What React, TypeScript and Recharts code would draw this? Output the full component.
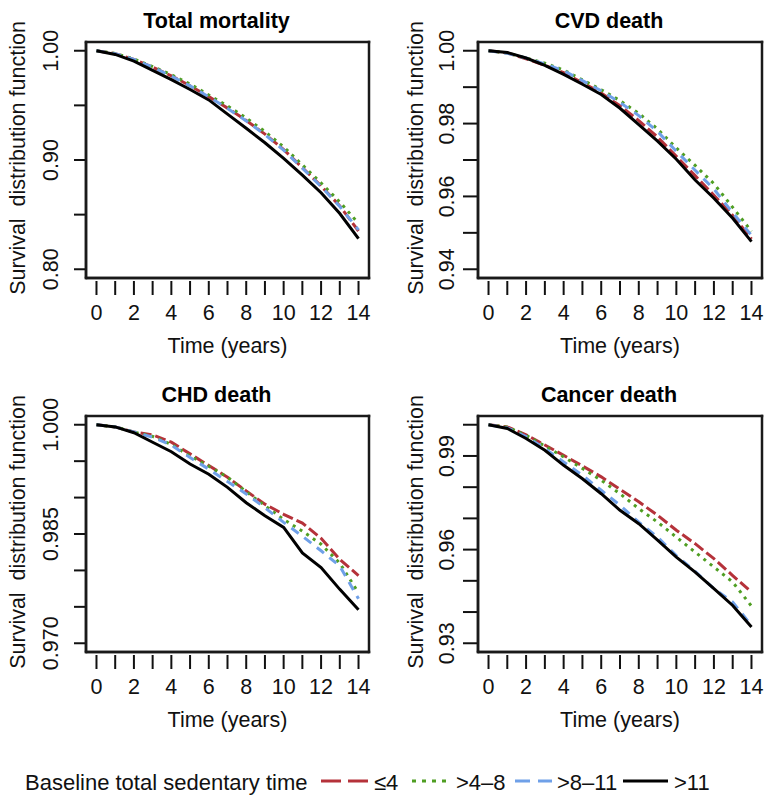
import React from "react";
import { LineChart, Line, XAxis, YAxis } from "recharts";

// follow-up time (years)
const years = [0, 1, 2, 3, 4, 5, 6, 7, 8, 9, 10, 11, 12, 13, 14];
const xTickLabels = ["0", "", "2", "", "4", "", "6", "", "8", "", "10", "", "12", "", "14"];

const groupNames = ["≤4", ">4–8", ">8–11", ">11"];

// Total mortality
const totalLe4 = [1.0, 0.9973, 0.992, 0.985, 0.977, 0.968, 0.958, 0.9475, 0.9362, 0.9237, 0.9095, 0.893, 0.8762, 0.858, 0.835];
const total4to8 = [1.0, 0.9975, 0.9924, 0.9855, 0.978, 0.9695, 0.9595, 0.9495, 0.9385, 0.926, 0.912, 0.8955, 0.879, 0.8615, 0.842];
const total8to11 = [1.0, 0.9973, 0.992, 0.985, 0.9768, 0.9678, 0.9578, 0.9472, 0.9358, 0.9232, 0.909, 0.8925, 0.8757, 0.8575, 0.836];
const totalGt11 = [1.0, 0.9966, 0.9905, 0.982, 0.9735, 0.9645, 0.955, 0.942, 0.929, 0.9158, 0.9015, 0.8862, 0.87, 0.851, 0.828];
const totalYTicks = [0.8, 0.85, 0.9, 0.95, 1.0];
const totalYLabels = ["0.80", "", "0.90", "", "1.00"];

// CVD death
const cvdLe4 = [1.0, 0.9994, 0.9978, 0.996, 0.994, 0.9912, 0.9884, 0.9849, 0.9808, 0.9763, 0.971, 0.9657, 0.9603, 0.9548, 0.9483];
const cvd4to8 = [1.0, 0.9994, 0.998, 0.9966, 0.9947, 0.992, 0.9893, 0.9863, 0.9828, 0.9785, 0.9733, 0.9685, 0.9635, 0.957, 0.9504];
const cvd8to11 = [1.0, 0.9993, 0.998, 0.9964, 0.9945, 0.9918, 0.989, 0.9858, 0.9822, 0.9778, 0.9724, 0.9672, 0.962, 0.9555, 0.9493];
const cvdGt11 = [1.0, 0.9995, 0.998, 0.996, 0.9935, 0.9908, 0.988, 0.9842, 0.9797, 0.9752, 0.9702, 0.9645, 0.9595, 0.954, 0.9476];
const cvdYTicks = [0.94, 0.95, 0.96, 0.97, 0.98, 0.99, 1.0];
const cvdYLabels = ["0.94", "", "0.96", "", "0.98", "", "1.00"];

// CHD death
const chdLe4 = [1.0, 0.9997, 0.999, 0.9986, 0.9976, 0.996, 0.9944, 0.9928, 0.9909, 0.9891, 0.9877, 0.9865, 0.9844, 0.9815, 0.9793];
const chd4to8 = [1.0, 0.9997, 0.999, 0.9984, 0.9973, 0.9957, 0.9943, 0.9928, 0.9908, 0.9889, 0.987, 0.9854, 0.9836, 0.981, 0.9769];
const chd8to11 = [1.0, 0.9997, 0.999, 0.9983, 0.9972, 0.9955, 0.9939, 0.9922, 0.9905, 0.9886, 0.9866, 0.9847, 0.9827, 0.9806, 0.9761];
const chdGt11 = [1.0, 0.9997, 0.9989, 0.9976, 0.9963, 0.9946, 0.9932, 0.9914, 0.9893, 0.9875, 0.9859, 0.9824, 0.9804, 0.9774, 0.9746];
const chdYTicks = [0.97, 0.975, 0.98, 0.985, 0.99, 0.995, 1.0];
const chdYLabels = ["0.970", "", "", "0.985", "", "", "1.000"];

// Cancer death
const cancerLe4 = [1.0, 0.9993, 0.9968, 0.9935, 0.9902, 0.9868, 0.9833, 0.9793, 0.9753, 0.971, 0.9662, 0.9619, 0.9571, 0.9517, 0.9464];
const cancer4to8 = [1.0, 0.9992, 0.9966, 0.9932, 0.9897, 0.986, 0.9822, 0.9779, 0.9731, 0.9688, 0.964, 0.9592, 0.9544, 0.9496, 0.9419];
const cancer8to11 = [1.0, 0.999, 0.9962, 0.9924, 0.9881, 0.9838, 0.979, 0.9742, 0.9688, 0.964, 0.9581, 0.953, 0.9475, 0.9432, 0.9357];
const cancerGt11 = [1.0, 0.9988, 0.9956, 0.9918, 0.987, 0.9827, 0.9779, 0.9726, 0.9683, 0.963, 0.9576, 0.9528, 0.9475, 0.9421, 0.9352];
const cancerYTicks = [0.93, 0.94, 0.95, 0.96, 0.97, 0.98, 0.99, 1.0];
const cancerYLabels = ["0.93", "", "", "0.96", "", "", "0.99", ""];

const FONT = "'Liberation Sans', Arial, Helvetica, sans-serif";
const keys = ["g1", "g2", "g3", "g4"];
const colors = ["#b5323a", "#4f9e22", "#6fa0e8", "#000000"];
const dashes = ["11 4", "3 5", "9 7", undefined];
const legendDashes = ["20 7", "4 6", "15 8", undefined];
const X_DOMAIN: [number, number] = [-0.56, 14.56];

const PANEL_W = 386;
const PANEL_H = 374;
const PLOT_TOP = 42;
const PLOT_BOTTOM = 278;
function plotBounds(side: "left" | "right") {
  return side === "left" ? { l: 86, r: 369 } : { l: 92, r: 376 };
}

function makeRows(a: number[], b: number[], c: number[], d: number[]) {
  return years.map((t, i) => ({ t, g1: a[i], g2: b[i], g3: c[i], g4: d[i] }));
}

type PanelProps = {
  title: string;
  rows: any[];
  yDomain: [number, number];
  yTicks: number[];
  yLabels: string[];
  left: number;
  top: number;
  side: "left" | "right";
};

function Panel({ title, rows, yDomain, yTicks, yLabels, left, top, side }: PanelProps) {
  const W = PANEL_W;
  const H = PANEL_H;
  const { l: plotLeft, r: plotRight } = plotBounds(side);
  const plotTop = PLOT_TOP;
  const plotBottom = PLOT_BOTTOM;
  const labelGap = side === "left" ? 28 : 24;
  const titleGap = side === "left" ? 61 : 55;
  const tickLen = side === "left" ? 12 : 15;
  const cx = (plotLeft + plotRight) / 2;

  const xTick = (p: any) => {
    const { x, y, index } = p;
    return (
      <g>
        <line x1={x} x2={x} y1={y + 3} y2={y + 17} stroke="#111" strokeWidth={2} />
        {xTickLabels[index] ? (
          <text x={x} y={y + 42} textAnchor="middle" fontFamily={FONT} fontSize={21.5} fill="#111">
            {xTickLabels[index]}
          </text>
        ) : null}
      </g>
    );
  };

  const yTick = (p: any) => {
    const { x, y, index } = p;
    const lx = x - labelGap;
    return (
      <g>
        <line x1={x - tickLen} x2={x} y1={y} y2={y} stroke="#111" strokeWidth={2} />
        {yLabels[index] ? (
          <text
            x={lx}
            y={y}
            transform={`rotate(-90, ${lx}, ${y})`}
            textAnchor="middle"
            fontFamily={FONT}
            fontSize={21.5}
            fill="#111"
          >
            {yLabels[index]}
          </text>
        ) : null}
      </g>
    );
  };

  const yTitleX = plotLeft - titleGap;
  const yTitleY = 158;

  return (
    <div style={{ position: "absolute", left, top }}>
      <LineChart
        width={W}
        height={H}
        data={rows}
        margin={{ top: plotTop, right: W - plotRight, bottom: 0, left: 0 }}
      >
        <XAxis
          dataKey="t"
          type="number"
          domain={X_DOMAIN}
          ticks={years}
          interval={0}
          allowDataOverflow
          axisLine={{ stroke: "#1a1a1a", strokeWidth: 2.5 }}
          tickLine={false}
          tickSize={0}
          tickMargin={0}
          height={H - plotBottom}
          tick={xTick}
        />
        <YAxis
          type="number"
          domain={yDomain}
          ticks={yTicks}
          interval={0}
          allowDataOverflow
          axisLine={{ stroke: "#1a1a1a", strokeWidth: 2.5 }}
          tickLine={false}
          tickSize={0}
          tickMargin={0}
          width={plotLeft}
          tick={yTick}
        />
        {keys.map((k, i) => (
          <Line
            key={k}
            dataKey={k}
            name={groupNames[i]}
            type="linear"
            stroke={colors[i]}
            strokeWidth={3}
            strokeDasharray={dashes[i]}
            dot={false}
            activeDot={false}
            isAnimationActive={false}
          />
        ))}
        <text
          x={cx - 11}
          y={plotTop - 14}
          textAnchor="middle"
          fontFamily={FONT}
          fontSize={21.5}
          fontWeight="bold"
          fill="#000"
        >
          {title}
        </text>
        <text
          x={cx}
          y={plotBottom + 75}
          textAnchor="middle"
          fontFamily={FONT}
          fontSize={21.5}
          fill="#111"
        >
          Time (years)
        </text>
        <text
          x={yTitleX}
          y={yTitleY}
          transform={`rotate(-90, ${yTitleX}, ${yTitleY})`}
          textAnchor="middle"
          fontFamily={FONT}
          fontSize={21.5}
          fill="#111"
          style={{ whiteSpace: "pre" }}
        >
          {"Survival  distribution function"}
        </text>
      </LineChart>
    </div>
  );
}

// R-style box() around each plot region, drawn as four edges on a page-level overlay
function Frames() {
  const spots: { left: number; top: number; side: "left" | "right" }[] = [
    { left: 0, top: 0, side: "left" },
    { left: PANEL_W, top: 0, side: "right" },
    { left: 0, top: PANEL_H, side: "left" },
    { left: PANEL_W, top: PANEL_H, side: "right" },
  ];
  return (
    <svg
      width={772}
      height={760}
      style={{ position: "absolute", left: 0, top: 0, pointerEvents: "none", zIndex: 5 }}
    >
      {spots.map((s, i) => {
        const b = plotBounds(s.side);
        const x0 = s.left + b.l;
        const x1 = s.left + b.r;
        const y0 = s.top + PLOT_TOP;
        const y1 = s.top + PLOT_BOTTOM;
        return (
          <g key={i} stroke="#1a1a1a" strokeWidth={2.5} strokeLinecap="square">
            <line x1={x0} y1={y0} x2={x1} y2={y0} />
            <line x1={x1} y1={y0} x2={x1} y2={y1} />
            <line x1={x1} y1={y1} x2={x0} y2={y1} />
            <line x1={x0} y1={y1} x2={x0} y2={y0} />
          </g>
        );
      })}
    </svg>
  );
}

function LegendRow() {
  const lineX = [
    [321, 368],
    [412, 451],
    [515, 552],
    [623, 668],
  ];
  const textX = [374, 456, 557, 674];
  return (
    <svg
      width={772}
      height={44}
      style={{ position: "absolute", left: 0, top: 760 }}
    >
      <text x={25} y={30} fontFamily={FONT} fontSize={22} fill="#111">
        Baseline total sedentary time
      </text>
      {groupNames.map((name, i) => (
        <g key={name}>
          <line
            x1={lineX[i][0]}
            x2={lineX[i][1]}
            y1={21}
            y2={21}
            stroke={colors[i]}
            strokeWidth={3}
            strokeDasharray={legendDashes[i]}
          />
          <text x={textX[i]} y={30} fontFamily={FONT} fontSize={22} fill="#111">
            {name}
          </text>
        </g>
      ))}
    </svg>
  );
}

export default function App() {
  return (
    <div
      style={{
        position: "absolute",
        left: 0,
        top: 0,
        width: 772,
        height: 804,
        background: "#fff",
      }}
    >
      <Panel
        title="Total mortality"
        rows={makeRows(totalLe4, total4to8, total8to11, totalGt11)}
        yDomain={[0.792, 1.008]}
        yTicks={totalYTicks}
        yLabels={totalYLabels}
        left={0}
        top={0}
        side="left"
      />
      <Panel
        title="CVD death"
        rows={makeRows(cvdLe4, cvd4to8, cvd8to11, cvdGt11)}
        yDomain={[0.9376, 1.0024]}
        yTicks={cvdYTicks}
        yLabels={cvdYLabels}
        left={PANEL_W}
        top={0}
        side="right"
      />
      <Panel
        title="CHD death"
        rows={makeRows(chdLe4, chd4to8, chd8to11, chdGt11)}
        yDomain={[0.9688, 1.0012]}
        yTicks={chdYTicks}
        yLabels={chdYLabels}
        left={0}
        top={PANEL_H}
        side="left"
      />
      <Panel
        title="Cancer death"
        rows={makeRows(cancerLe4, cancer4to8, cancer8to11, cancerGt11)}
        yDomain={[0.9272, 1.0028]}
        yTicks={cancerYTicks}
        yLabels={cancerYLabels}
        left={PANEL_W}
        top={PANEL_H}
        side="right"
      />
      <Frames />
      <LegendRow />
    </div>
  );
}
